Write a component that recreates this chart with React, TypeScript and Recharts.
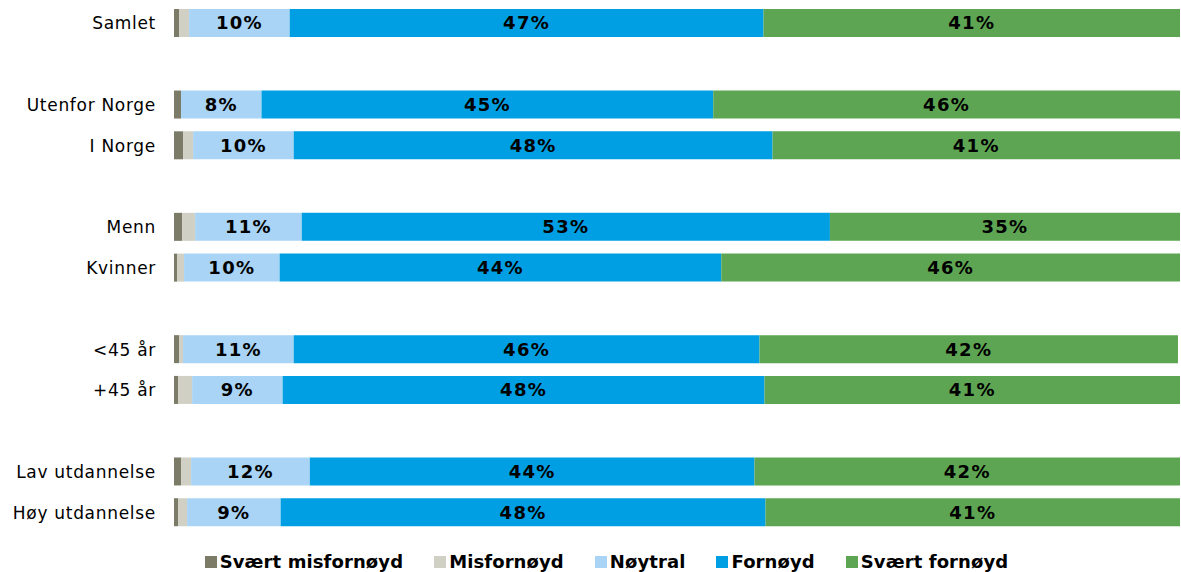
import React from "react";
import { BarChart, Bar, XAxis, YAxis, Legend, LabelList } from "recharts";

// rows; "" marks a spacer row between groups
const categories = [
  "Samlet",
  "",
  "Utenfor Norge",
  "I Norge",
  "",
  "Menn",
  "Kvinner",
  "",
  "<45 år",
  "+45 år",
  "",
  "Lav utdannelse",
  "Høy utdannelse",
];

// values for the non-empty rows, in order
const svaertMisfornoyd = [0.5, 0.7, 0.9, 0.8, 0.3, 0.5, 0.4, 0.7, 0.4];
const misfornoyd = [1.0, 0, 1.0, 1.3, 0.7, 0.4, 1.4, 1.0, 0.9];
const noytral = [10.0, 8.0, 10.0, 10.6, 9.5, 11.0, 9.0, 11.8, 9.3];
const fornoyd = [47.1, 44.9, 47.6, 52.5, 43.9, 46.3, 47.9, 44.2, 48.2];
const svaertFornoyd = [41.4, 46.4, 40.5, 34.8, 45.6, 41.6, 41.3, 42.3, 41.2];

const series = [
  { key: "sm", name: "Svært misfornøyd", color: "#7b7b68", values: svaertMisfornoyd, label: false },
  { key: "m", name: "Misfornøyd", color: "#d0d0c4", values: misfornoyd, label: false },
  { key: "n", name: "Nøytral", color: "#a9d4f5", values: noytral, label: true },
  { key: "f", name: "Fornøyd", color: "#009fe3", values: fornoyd, label: true },
  { key: "sf", name: "Svært fornøyd", color: "#5ea553", values: svaertFornoyd, label: true },
];

let idx = 0;
const data = categories.map((c, i) => {
  const row: any = { key: "r" + i, name: c };
  if (c !== "") {
    series.forEach((s) => {
      row[s.key] = s.values[idx];
    });
    idx++;
  }
  return row;
});

const font = "'DejaVu Sans', Verdana, sans-serif";

const LegendContent = () => (
  <div
    style={{
      display: "flex",
      justifyContent: "center",
      gap: 31,
      fontFamily: font,
      fontWeight: "bold",
      fontSize: 18,
      letterSpacing: 0.1,
      color: "#000",
      paddingLeft: 32,
    }}
  >
    {series.map((s) => (
      <div key={s.key} style={{ display: "flex", alignItems: "center" }}>
        <span
          style={{
            display: "inline-block",
            width: 12,
            height: 12,
            background: s.color,
            marginRight: 3,
          }}
        />
        {s.name}
      </div>
    ))}
  </div>
);

export default function App() {
  return (
    <div style={{ position: "absolute", left: 0, top: 0 }}>
      <BarChart
        width={1181}
        height={572}
        data={data}
        layout="vertical"
        margin={{ top: 3, right: 1, bottom: 18, left: 0 }}
        barSize={28}
      >
        <XAxis type="number" domain={[0, 100]} hide />
        <YAxis
          type="category"
          dataKey="key"
          width={174}
          axisLine={false}
          tickLine={false}
          tickSize={0}
          tickMargin={18}
          tickFormatter={(v: any, i: number) => categories[i]}
          tick={{ fill: "#000", fontSize: 17, fontFamily: font, letterSpacing: 0.7 }}
          interval={0}
        />
        <Legend
          content={<LegendContent />}
          wrapperStyle={{ left: 0, width: 1181, bottom: 0 }}
        />
        {series.map((s) => (
          <Bar
            key={s.key}
            dataKey={s.key}
            name={s.name}
            stackId="a"
            fill={s.color}
            isAnimationActive={false}
          >
            {s.label && (
              <LabelList
                dataKey={s.key}
                position="center"
                formatter={(v: any) => (v == null ? "" : Math.round(v) + "%")}
                style={{
                  fill: "#000",
                  fontWeight: "bold",
                  fontSize: 18,
                  fontFamily: font,
                  letterSpacing: 1.3,
                }}
              />
            )}
          </Bar>
        ))}
      </BarChart>
    </div>
  );
}
